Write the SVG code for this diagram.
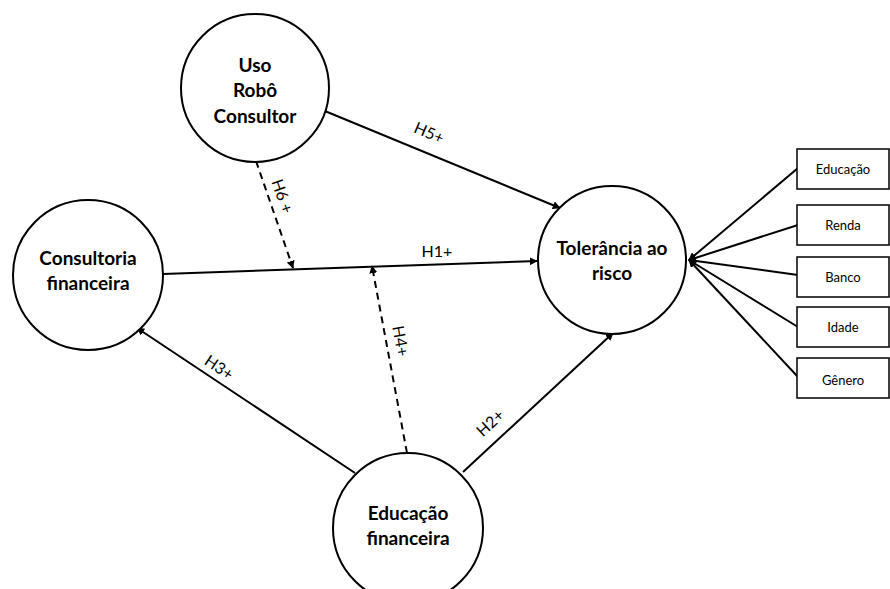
<svg xmlns="http://www.w3.org/2000/svg" width="890" height="589" viewBox="0 0 890 589">
  <defs>
    <marker id="arrow" viewBox="0 0 10 10" refX="9" refY="5" markerWidth="8" markerHeight="8" markerUnits="userSpaceOnUse" orient="auto">
      <path d="M0,0 L10,5 L0,10 z" fill="#000"/>
    </marker>
    <style>
      .node circle { fill: #fff; stroke: #000; stroke-width: 2; }
      .node text { font-family: Lato, "Open Sans", "Liberation Sans", sans-serif; font-weight: bold; font-size: 19px; text-anchor: middle; fill: #000; }
      .box rect { fill: #fff; stroke: #000; stroke-width: 1.5; }
      .box text { font-family: Lato, "Open Sans", "Liberation Sans", sans-serif; font-size: 13px; text-anchor: middle; fill: #000; }
      .edge { fill: none; stroke: #000; stroke-width: 2; marker-end: url(#arrow); }
      .dashed { stroke-dasharray: 7 5; }
      .lbl { font-family: Lato, "Open Sans", "Liberation Sans", sans-serif; font-size: 16px; text-anchor: middle; fill: #000; }
    </style>
  </defs>
  <rect width="890" height="589" fill="#fff"/>

  <!-- connectors -->
  <g id="connectors">
    <line class="edge" x1="163" y1="274" x2="537" y2="261"/>
    <line class="edge" x1="320" y1="109" x2="560" y2="208"/>
    <line class="edge dashed" x1="256" y1="161" x2="293" y2="268"/>
    <line class="edge dashed" x1="407" y1="453" x2="372" y2="266"/>
    <line class="edge" x1="355" y1="473" x2="137" y2="328"/>
    <line class="edge" x1="463" y1="472" x2="613" y2="333"/>
    <line class="edge" x1="798" y1="168" x2="689" y2="260"/>
    <line class="edge" x1="798" y1="225" x2="689" y2="260"/>
    <line class="edge" x1="798" y1="275" x2="689" y2="260"/>
    <line class="edge" x1="798" y1="327" x2="689" y2="260"/>
    <line class="edge" x1="798" y1="377" x2="689" y2="260"/>

    <text class="lbl" transform="translate(427,138) rotate(23)">H5+</text>
    <text class="lbl" transform="translate(277,198) rotate(71)">H6 +</text>
    <text class="lbl" x="437" y="257">H1+</text>
    <text class="lbl" transform="translate(395,342) rotate(80)">H4+</text>
    <text class="lbl" transform="translate(216,372) rotate(34)">H3+</text>
    <text class="lbl" transform="translate(494,427) rotate(-43)">H2+</text>
  </g>

  <!-- nodes -->
  <g id="uso-robo" class="node">
    <circle cx="255" cy="88" r="74"/>
    <text x="255" y="72">Uso</text>
    <text x="255" y="97">Robô</text>
    <text x="255" y="123">Consultor</text>
  </g>
  <g id="consultoria" class="node">
    <circle cx="88" cy="275" r="75"/>
    <text x="88" y="265">Consultoria</text>
    <text x="88" y="290">financeira</text>
  </g>
  <g id="tolerancia" class="node">
    <circle cx="612" cy="260" r="74"/>
    <text x="612" y="255">Tolerância ao</text>
    <text x="612" y="280">risco</text>
  </g>
  <g id="educacao-financeira" class="node">
    <circle cx="408" cy="528" r="75"/>
    <text x="408" y="520">Educação</text>
    <text x="408" y="545">financeira</text>
  </g>

  <g id="box-educacao" class="box">
    <rect x="797" y="149" width="92" height="40"/>
    <text x="843" y="174">Educação</text>
  </g>
  <g id="box-renda" class="box">
    <rect x="797" y="205" width="92" height="40"/>
    <text x="843" y="230">Renda</text>
  </g>
  <g id="box-banco" class="box">
    <rect x="797" y="257" width="92" height="40"/>
    <text x="843" y="282">Banco</text>
  </g>
  <g id="box-idade" class="box">
    <rect x="797" y="307" width="92" height="40"/>
    <text x="843" y="332">Idade</text>
  </g>
  <g id="box-genero" class="box">
    <rect x="797" y="358" width="92" height="40"/>
    <text x="843" y="385">Gênero</text>
  </g>
</svg>
